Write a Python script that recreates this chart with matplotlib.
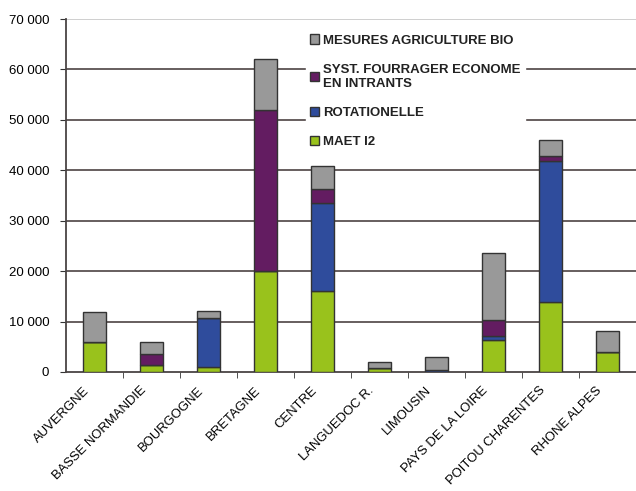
import matplotlib
matplotlib.use("Agg")
import matplotlib.pyplot as plt
import numpy as np
from matplotlib.ticker import FuncFormatter

plt.rcParams['font.family'] = ['Liberation Sans', 'DejaVu Sans']

regions = ['AUVERGNE', 'BASSE NORMANDIE', 'BOURGOGNE', 'BRETAGNE', 'CENTRE',
           'LANGUEDOC R.', 'LIMOUSIN', 'PAYS DE LA LOIRE', 'POITOU CHARENTES',
           'RHONE ALPES']

maet_i2 = [6000, 1400, 900, 20000, 16000, 700, 0, 6300, 13800, 4000]
rotationelle = [0, 0, 9900, 0, 17500, 0, 300, 800, 28000, 0]
syst_fourrager = [0, 2200, 0, 32000, 2800, 0, 0, 3200, 1000, 0]
agri_bio = [5800, 2400, 1300, 10000, 4500, 1200, 2700, 13300, 3300, 4200]

series = [
    ('MAET I2', maet_i2, '#99c21c'),
    ('ROTATIONELLE', rotationelle, '#2f4c9c'),
    ('SYST. FOURRAGER ECONOME\nEN INTRANTS', syst_fourrager, '#631c61'),
    ('MESURES AGRICULTURE BIO', agri_bio, '#999999'),
]

fig = plt.figure(figsize=(6.36, 4.91), dpi=100)
ax = fig.add_axes([66 / 636, 119 / 491, 570 / 636, 353 / 491])

x = np.arange(len(regions))
bottom = np.zeros(len(regions))
handles = []
for label, vals, col in series:
    b = ax.bar(x, vals, width=0.4, bottom=bottom, color=col,
               edgecolor='#333333', linewidth=1.0, label=label, zorder=3)
    handles.append(b)
    bottom += np.array(vals)

ax.set_xlim(-0.5, len(regions) - 0.5)
ax.set_ylim(0, 70000)
ax.set_yticks(np.arange(0, 70001, 10000))
ax.yaxis.set_major_formatter(FuncFormatter(lambda v, p: f'{int(v):,}'.replace(',', ' ')))
for v in range(10000, 70000, 10000):
    ax.axhline(v, color='#5a5252', linewidth=1.3, zorder=1)
ax.axhline(70000, color='#cccccc', linewidth=1.3, zorder=1)

# etiquettes un peu decalees a gauche comme dans Excel
ax.set_xticks(x - 0.2)
ax.set_xticklabels(regions, rotation=45, ha='right', va='top',
                   rotation_mode='anchor', fontsize=9.4)
ax.set_xticks(np.arange(0.5, len(regions) - 0.5, 1), minor=True)
ax.tick_params(axis='x', which='major', length=0, pad=9)
ax.tick_params(axis='x', which='minor', length=4, color='#333333')
ax.tick_params(axis='y', length=4, color='#333333', labelsize=9.5, pad=8)

for s in ['top', 'right']:
    ax.spines[s].set_visible(False)
ax.spines['left'].set_color('#4a4444')
ax.spines['left'].set_linewidth(1.3)
ax.spines['bottom'].set_color('#4a4444')
ax.spines['bottom'].set_linewidth(1.3)

leg = ax.legend(handles[::-1], [s[0] for s in series][::-1],
                loc='upper left', bbox_to_anchor=(0.41, 0.986),
                frameon=True, fancybox=False, framealpha=1, edgecolor='white',
                fontsize=9.5, handlelength=0.7, handleheight=0.7,
                handletextpad=0.3, labelspacing=1.3, borderpad=0.3)
leg.set_zorder(5)
for t in leg.get_texts():
    t.set_fontweight('bold')
    t.set_color('#222222')

fig.savefig('out.png', dpi=100)
